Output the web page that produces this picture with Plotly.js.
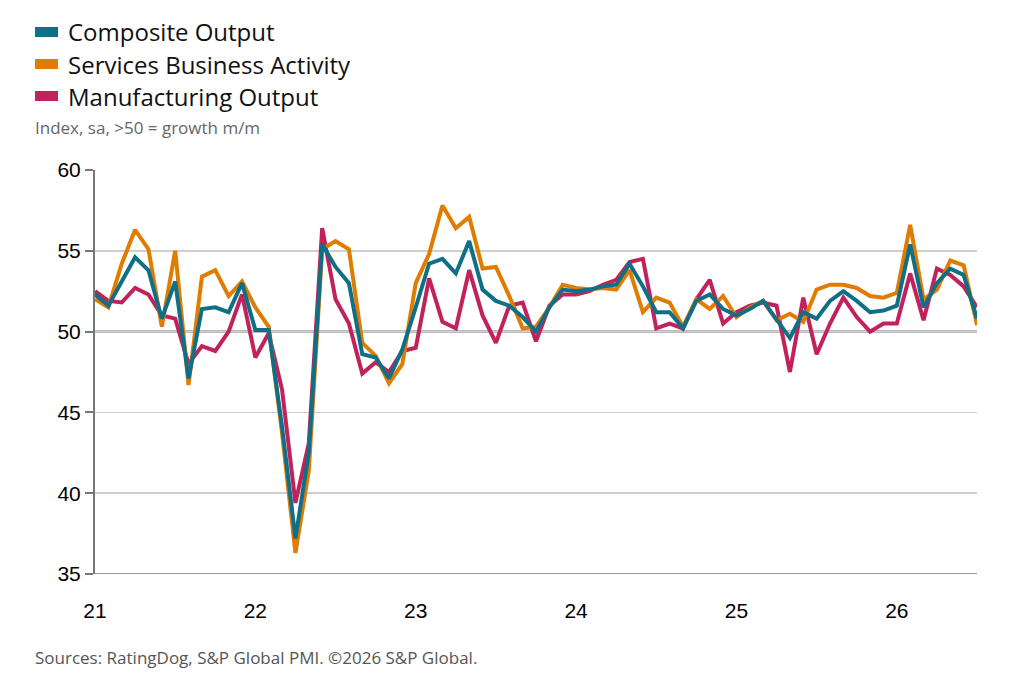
<!DOCTYPE html>
<html>
<head>
<meta charset="utf-8">
<script src="https://cdn.plot.ly/plotly-3.0.1.min.js"></script>
<style>body{margin:0;background:#fff}#chart{width:1024px;height:693px}</style>
</head>
<body>
<div id="chart"></div>
<script>
// Monthly index, Jan 2021 .. Jul 2026
const composite = [52.3,51.6,53.1,54.6,53.8,50.8,53.1,47.1,51.4,51.5,51.2,53.0,
  50.1,50.1,44.1,37.2,42.5,55.4,54.0,53.0,48.6,48.4,47.1,48.9,
  51.5,54.2,54.5,53.6,55.6,52.6,51.9,51.6,50.9,50.0,51.5,52.6,
  52.5,52.6,52.8,52.9,54.2,52.8,51.2,51.2,50.2,51.9,52.3,51.4,
  51.0,51.4,51.9,50.7,49.6,51.2,50.8,51.9,52.5,51.9,51.2,51.3,
  51.6,55.4,51.5,53.0,53.9,53.5,50.8];
const services = [52.0,51.5,54.2,56.3,55.1,50.3,55.0,46.7,53.4,53.8,52.2,53.1,
  51.5,50.3,43.7,36.3,41.4,55.1,55.6,55.1,49.3,48.5,46.8,48.0,
  53.0,54.8,57.8,56.4,57.1,53.9,54.0,52.2,50.2,50.3,51.5,52.9,
  52.7,52.6,52.7,52.6,53.8,51.2,52.1,51.8,50.3,52.0,51.4,52.2,
  50.9,51.5,51.9,50.7,51.1,50.6,52.6,52.9,52.9,52.7,52.2,52.1,
  52.4,56.6,52.0,52.6,54.4,54.1,50.4];
const manufacturing = [52.5,51.9,51.8,52.7,52.3,51.0,50.8,48.0,49.1,48.8,50.0,52.3,
  48.4,49.9,46.4,39.4,43.1,56.4,52.0,50.5,47.4,48.1,47.5,48.8,
  49.0,53.3,50.6,50.2,53.8,51.0,49.3,51.6,51.8,49.4,51.6,52.3,
  52.3,52.5,52.9,53.2,54.3,54.5,50.2,50.5,50.2,52.0,53.2,50.5,
  51.2,51.6,51.8,51.6,47.5,52.1,48.6,50.5,52.1,50.9,50.0,50.5,
  50.5,53.6,50.7,53.9,53.5,52.8,51.5];
const yearTicks = [0, 12, 24, 36, 48, 60];
const yearLabels = ["21", "22", "23", "24", "25", "26"];
const seriesNames = ["Composite Output", "Services Business Activity", "Manufacturing Output"];
const seriesColors = ["#0f6f86", "#e07c00", "#c2225c"];

const months = composite.map((v, i) => i);

function trace(name, y, color) {
  return { x: months, y: y, name: name, type: "scatter", mode: "lines",
    line: { color: color, width: 4 }, showlegend: false };
}

// draw order: manufacturing bottom, services, composite on top
const drawn = [
  trace(seriesNames[2], manufacturing, seriesColors[2]),
  trace(seriesNames[1], services, seriesColors[1]),
  trace(seriesNames[0], composite, seriesColors[0]),
];

const W = 1024, H = 693;
const margin = { l: 95, r: 47, t: 170, b: 119 };
const pw = W - margin.l - margin.r, ph = H - margin.t - margin.b;
const px = (x) => (x - margin.l) / pw;
const py = (y) => (H - margin.b - y) / ph;

// hand-made legend
const legendShapes = [];
const legendTexts = [];
seriesNames.forEach((name, i) => {
  const yc = 32 + i * 32;
  legendShapes.push({ type: "rect", xref: "paper", yref: "paper",
    x0: px(35), x1: px(58), y0: py(yc + 5), y1: py(yc - 5),
    line: { width: 0 }, fillcolor: seriesColors[i] });
  legendTexts.push({ text: name, xref: "paper", yref: "paper", showarrow: false,
    x: px(66), y: py(yc), xanchor: "left", yanchor: "middle",
    font: { size: 24, color: "#111" } });
});

const layout = {
  width: W, height: H,
  margin: margin,
  paper_bgcolor: "#fff", plot_bgcolor: "#fff",
  font: { family: "Open Sans, sans-serif", color: "#000" },
  showlegend: false,
  xaxis: { range: [0, 66], tickvals: yearTicks, ticktext: yearLabels,
    showgrid: false, zeroline: false, showline: false, ticks: "outside",
    ticklen: 18, tickcolor: "rgba(0,0,0,0)",
    tickfont: { size: 21, family: "Arial, Liberation Sans, sans-serif" } },
  yaxis: { range: [35, 60], dtick: 5, showgrid: true, gridcolor: "#cfcfcf",
    gridwidth: 1.5, zeroline: false, showline: true, linecolor: "#777", linewidth: 2,
    ticks: "outside", ticklen: 8, tickcolor: "#777", tickwidth: 2,
    tickfont: { size: 21, family: "Arial, Liberation Sans, sans-serif" } },
  shapes: [
    { type: "line", xref: "paper", yref: "y", x0: 0, x1: 1, y0: 50, y1: 50,
      line: { color: "#777", width: 2 }, layer: "below" },
    { type: "line", xref: "paper", yref: "y", x0: 0, x1: 1, y0: 35, y1: 35,
      line: { color: "#999", width: 2 }, layer: "below" },
  ].concat(legendShapes),
  annotations: [
    { text: "Index, sa, >50 = growth m/m", xref: "paper", yref: "paper",
      x: px(33), y: py(128), xanchor: "left", yanchor: "middle", showarrow: false,
      font: { size: 17, color: "#666" } },
    { text: "Sources: RatingDog, S&P Global PMI. ©2026 S&P Global.", xref: "paper",
      yref: "paper", x: px(33), y: py(657), xanchor: "left", yanchor: "middle",
      showarrow: false, font: { size: 17, color: "#555" } },
  ].concat(legendTexts),
};

Plotly.newPlot("chart", drawn, layout, { displayModeBar: false, staticPlot: true });
</script>
</body>
</html>
